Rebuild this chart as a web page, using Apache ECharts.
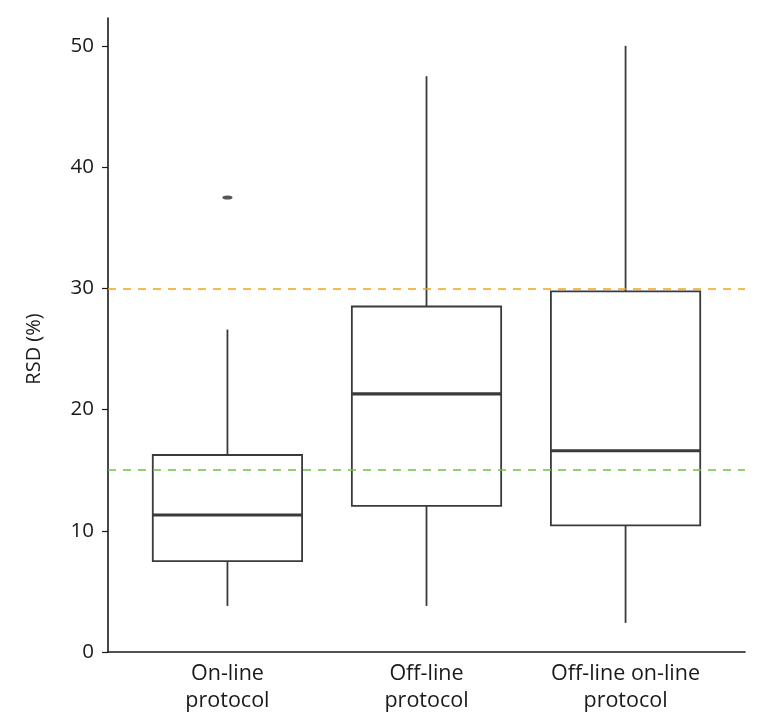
<!DOCTYPE html>
<html>
<head>
<meta charset="utf-8">
<script src="https://cdn.jsdelivr.net/npm/echarts@6/dist/echarts.min.js"></script>
<style>
html,body{margin:0;padding:0;background:#fff;}
#chart{width:771px;height:727px;}
</style>
</head>
<body>
<div id="chart"></div>
<script>
var categories = ['On-line\nprotocol', 'Off-line\nprotocol', 'Off-line on-line\nprotocol'];
var lowerWhisker = [3.8, 3.8, 2.4];
var q1 = [7.5, 12.05, 10.45];
var median = [11.3, 21.3, 16.6];
var q3 = [16.25, 28.5, 29.75];
var upperWhisker = [26.6, 47.5, 50.0];
var outliers = [[1, 37.5]];
var refLines = [30, 15];
var yTicks = [0, 10, 20, 30, 40, 50];

var boxData = categories.map(function (c, i) {
  return [i + 1, lowerWhisker[i], q1[i], median[i], q3[i], upperWhisker[i]];
});

var lineColor = '#3a3a3a';
var font = 'Open Sans';

var chart = echarts.init(document.getElementById('chart'), null, {renderer: 'canvas'});
chart.setOption({
  backgroundColor: '#fff',
  animation: false,
  grid: {left: 108, right: 26, top: 18, bottom: 75},
  xAxis: {
    type: 'value',
    min: 0.4,
    max: 3.6,
    splitLine: {show: false},
    axisLine: {show: true, onZero: false, lineStyle: {color: '#1a1a1a', width: 1.6}},
    axisTick: {show: false},
    axisLabel: {
      customValues: [1, 2, 3],
      formatter: function (v) { return categories[Math.round(v) - 1] || ''; },
      color: '#1a1a1a',
      fontFamily: font,
      fontSize: 21.5,
      lineHeight: 27,
      margin: 8,
      align: 'center'
    }
  },
  yAxis: {
    type: 'value',
    min: 0,
    max: 52.3,
    interval: 10,
    name: 'RSD (%)',
    nameLocation: 'middle',
    nameGap: 64,
    nameTextStyle: {color: '#1a1a1a', fontFamily: font, fontSize: 20, padding: [0, 28, 0, 0]},
    splitLine: {show: false},
    axisLine: {show: true, lineStyle: {color: '#1a1a1a', width: 1.6}},
    axisTick: {show: true, length: 6, lineStyle: {color: '#1a1a1a', width: 1.2}, customValues: yTicks},
    axisLabel: {color: '#1a1a1a', fontFamily: font, fontSize: 20.5, margin: 14, customValues: yTicks}
  },
  series: [
    {
      type: 'custom',
      data: boxData,
      encode: {x: 0, y: [1, 2, 3, 4, 5]},
      renderItem: function (params, api) {
        var x = api.value(0);
        var halfW = api.size([0.75, 0])[0] / 2;
        var pLow = api.coord([x, api.value(1)]);
        var pQ1 = api.coord([x, api.value(2)]);
        var pMed = api.coord([x, api.value(3)]);
        var pQ3 = api.coord([x, api.value(4)]);
        var pHigh = api.coord([x, api.value(5)]);
        var st = {stroke: lineColor, lineWidth: 1.8, fill: null};
        return {
          type: 'group',
          children: [
            {type: 'line', shape: {x1: pLow[0], y1: pLow[1], x2: pQ1[0], y2: pQ1[1]}, style: st},
            {type: 'line', shape: {x1: pQ3[0], y1: pQ3[1], x2: pHigh[0], y2: pHigh[1]}, style: st},
            {type: 'rect', shape: {x: pQ3[0] - halfW, y: pQ3[1], width: halfW * 2, height: pQ1[1] - pQ3[1]}, style: {stroke: lineColor, lineWidth: 1.8, fill: '#fff'}},
            {type: 'line', shape: {x1: pMed[0] - halfW, y1: pMed[1], x2: pMed[0] + halfW, y2: pMed[1]}, style: {stroke: lineColor, lineWidth: 3.2}}
          ]
        };
      },
      z: 2
    },
    {
      type: 'scatter',
      data: outliers,
      symbol: 'circle',
      symbolSize: [10, 4],
      itemStyle: {color: '#2a2a2a'},
      z: 3
    },
    {
      type: 'line',
      data: [],
      z: 1,
      markLine: {
        silent: true,
        symbol: ['none', 'none'],
        label: {show: false},
        data: [
          {yAxis: refLines[0], lineStyle: {color: '#F5A31F', type: [8, 7], width: 1.5}},
          {yAxis: refLines[1], lineStyle: {color: '#6CC24A', type: [8, 7], width: 1.5}}
        ]
      }
    }
  ]
});
</script>
</body>
</html>
